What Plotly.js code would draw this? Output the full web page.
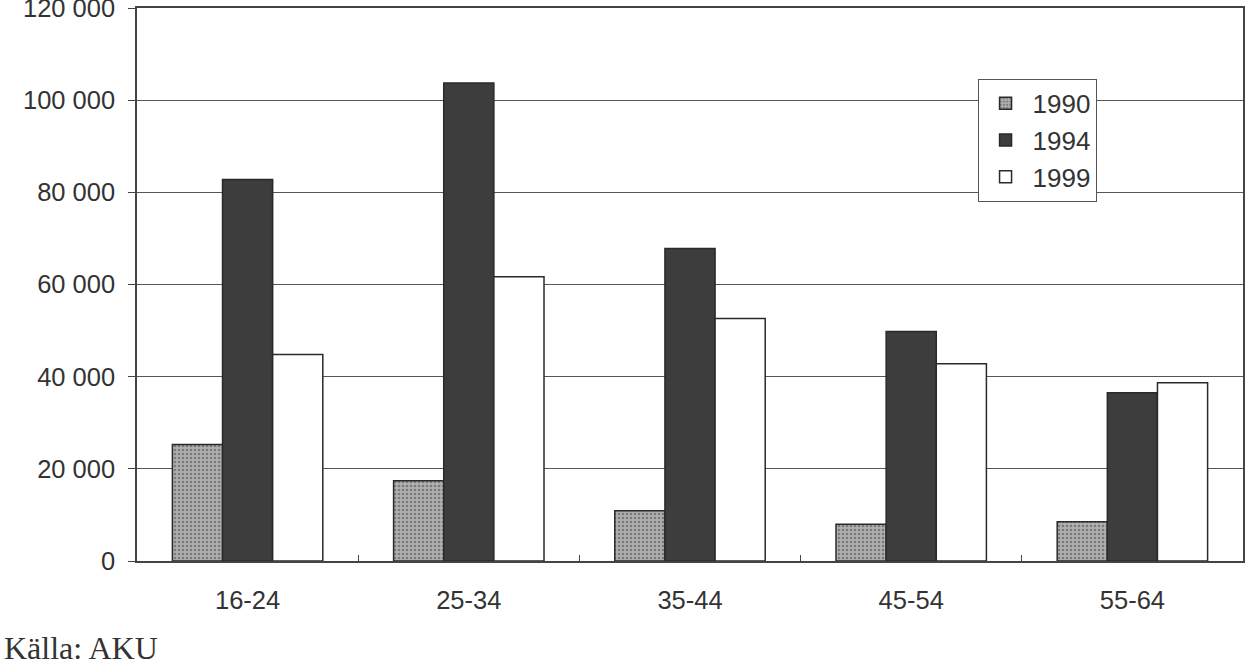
<!DOCTYPE html>
<html>
<head>
<meta charset="utf-8">
<script src="https://cdn.plot.ly/plotly-3.0.1.min.js"></script>
<style>html,body{margin:0;padding:0;background:#fff;}#chart{width:1246px;height:663px;}</style>
</head>
<body>
<div id="chart"></div>
<script>
const categories = ["16-24", "25-34", "35-44", "45-54", "55-64"];
const years = ["1990", "1994", "1999"];
const values1990 = [25300, 17400, 10900, 8000, 8500];
const values1994 = [82800, 103700, 67800, 49800, 36500];
const values1999 = [44800, 61700, 52600, 42800, 38700];
const sourceNote = "Källa: AKU";

const outline = {color: "#2a2a2a", width: 1.5};
const traces = [
  {type: "bar", name: years[0], x: categories, y: values1990,
   marker: {color: "#a6a6a6", line: outline,
            pattern: {shape: ".", fgcolor: "#7a7a7a", bgcolor: "#b0b0b0", size: 4, solidity: 0.35}}},
  {type: "bar", name: years[1], x: categories, y: values1994,
   marker: {color: "#3d3d3d", line: outline}},
  {type: "bar", name: years[2], x: categories, y: values1999,
   marker: {color: "#ffffff", line: outline}}
];

const font = {family: "Liberation Sans, Arial, sans-serif", size: 25.5, color: "#333"};
const layout = {
  width: 1246, height: 663,
  margin: {l: 137, r: 3, t: 8, b: 102, pad: 0},
  paper_bgcolor: "#fff", plot_bgcolor: "#fff",
  font: font,
  separators: ", ",
  barmode: "group", bargap: 0.32, bargroupgap: 0,
  showlegend: true,
  legend: {x: 0.760, y: 0.872, xanchor: "left", yanchor: "top",
           bgcolor: "#fff", bordercolor: "#555", borderwidth: 1,
           font: {family: font.family, size: 26, color: "#333"},
           tracegroupgap: 0, itemwidth: 44},
  xaxis: {type: "category", showline: true, linecolor: "#444", linewidth: 1.5, mirror: true,
          ticks: "inside", tickson: "boundaries", ticklen: 6, tickcolor: "#444",
          ticklabelstandoff: 16,
          showgrid: false, tickfont: font},
  yaxis: {range: [0, 120000], dtick: 20000, tickformat: ",d",
          showline: true, linecolor: "#444", linewidth: 1.5, mirror: true,
          ticks: "outside", ticklen: 7, tickcolor: "#444",
          ticklabelstandoff: 8, ticklabeloverflow: "allow",
          showgrid: true, gridcolor: "#555", gridwidth: 1,
          zeroline: false, tickfont: font},
  annotations: [{text: sourceNote, xref: "paper", yref: "paper", x: -0.122, y: -0.157,
                 xanchor: "left", yanchor: "middle", showarrow: false,
                 font: {family: "Liberation Serif, Times New Roman, serif", size: 32, color: "#333"}}]
};
Plotly.newPlot("chart", traces, layout, {displayModeBar: false});
</script>
</body>
</html>
